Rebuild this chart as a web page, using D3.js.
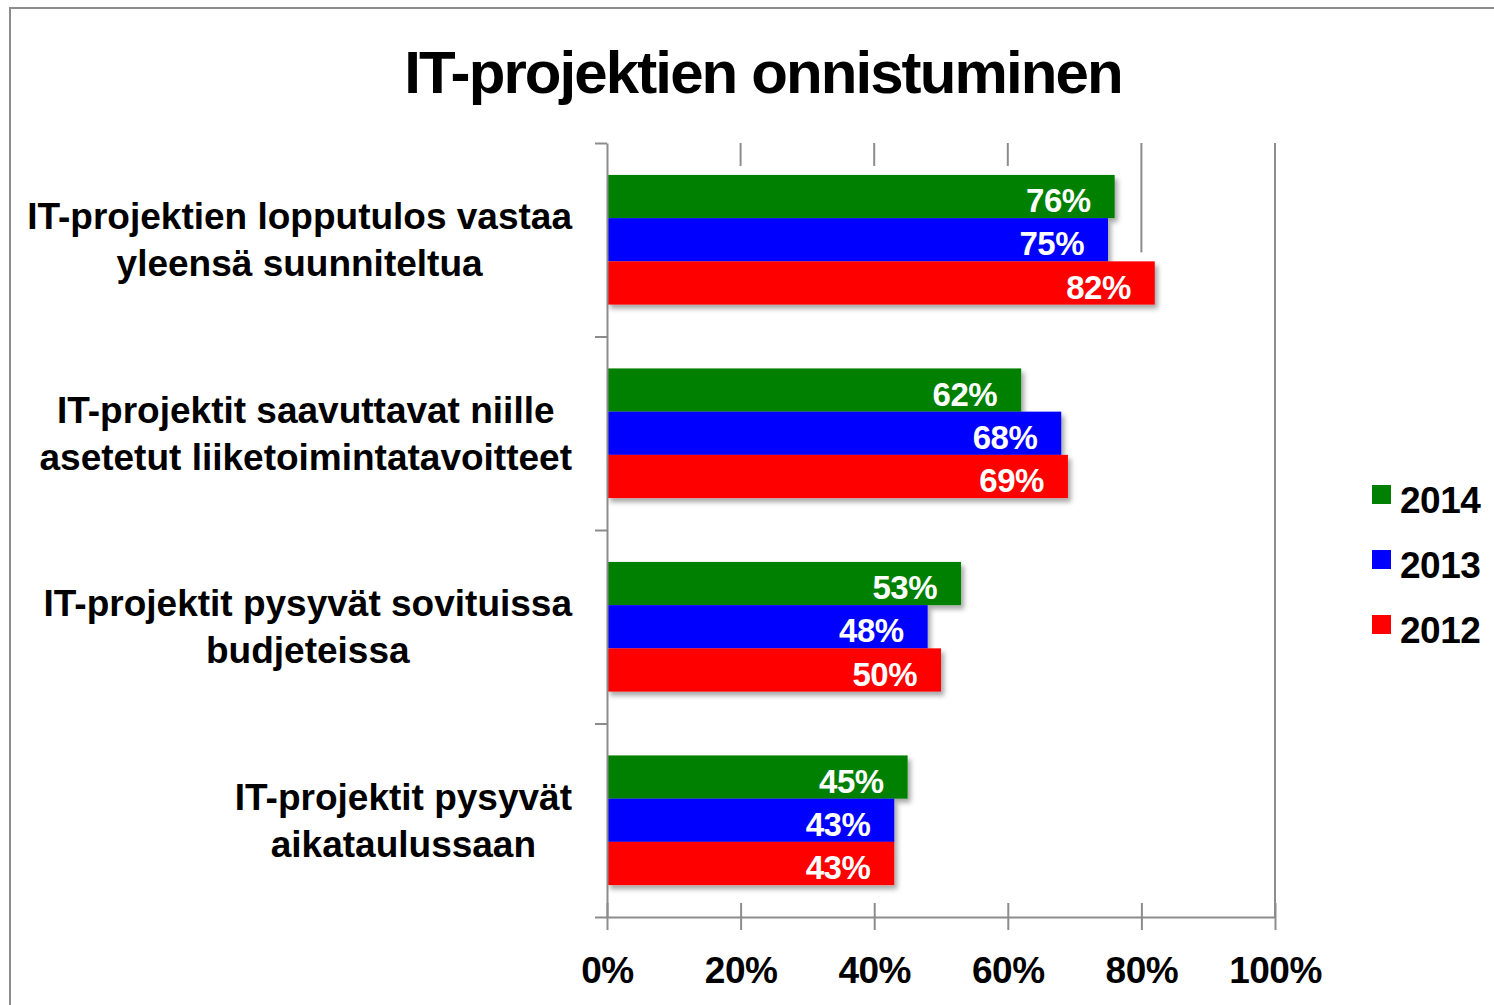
<!DOCTYPE html>
<html>
<head>
<meta charset="utf-8">
<script src="https://cdn.jsdelivr.net/npm/d3@7"></script>
<style>
  body { margin: 0; background: #fff; }
  svg { display: block; font-family: "Liberation Sans", Arial, Helvetica, sans-serif; }
</style>
</head>
<body>
<div id="chart"></div>
<script>
const categories = [
  ["IT-projektien lopputulos vastaa", "yleensä suunniteltua"],
  ["IT-projektit saavuttavat niille", "asetetut liiketoimintatavoitteet"],
  ["IT-projektit pysyvät sovituissa", "budjeteissa"],
  ["IT-projektit pysyvät", "aikataulussaan"],
];
const years = ["2014", "2013", "2012"];
const values2014 = [0.76, 0.62, 0.53, 0.45];
const values2013 = [0.75, 0.68, 0.48, 0.43];
const values2012 = [0.82, 0.69, 0.50, 0.43];
const xTicks = [0, 0.2, 0.4, 0.6, 0.8, 1.0];
const colors = { "2014": "#008000", "2013": "#0000ff", "2012": "#ff0000" };

const W = 1494, H = 1005;
const plot = { left: 607, right: 1275, top: 143, bottom: 917 };
const axisColor = "#8c8c8c";

const seriesValues = { "2014": values2014, "2013": values2013, "2012": values2012 };
const rows = categories.map((c, i) => ({ key: i, lines: c, values: years.map((y) => ({ year: y, value: seriesValues[y][i] })) }));

const svg = d3.select("#chart").append("svg").attr("width", W).attr("height", H);

const defs = svg.append("defs");
defs.append("filter").attr("id", "shadow").attr("x", "-5%").attr("y", "-20%").attr("width", "115%").attr("height", "160%")
  .append("feDropShadow").attr("dx", 3).attr("dy", 4).attr("stdDeviation", 2.5)
  .attr("flood-color", "#000").attr("flood-opacity", 0.35);

// outer frame
svg.append("rect").attr("x", 10).attr("y", 8).attr("width", W).attr("height", H)
  .attr("fill", "none").attr("stroke", axisColor).attr("stroke-width", 2);

// title
svg.append("text").attr("x", 763).attr("y", 93).attr("text-anchor", "middle")
  .attr("font-size", 60).attr("font-weight", "bold").attr("letter-spacing", -1.9)
  .text("IT-projektien onnistuminen");

const x = d3.scaleLinear().domain([0, 1]).range([plot.left, plot.right]);
const y0 = d3.scaleBand().domain(rows.map((r) => r.key)).range([plot.top, plot.bottom])
  .paddingInner(0.33).paddingOuter(0.165);
const y1 = d3.scaleBand().domain(years).range([0, y0.bandwidth()]);
const yEdges = d3.scaleLinear().domain([0, categories.length]).range([plot.top, plot.bottom]);

// gridlines: hidden behind the bars' glow below the first bar they reach
const allBars = rows.flatMap((r) => r.values.map((v) => ({ ...v, top: y0(r.key) + y1(v.year) })));
svg.append("g").selectAll("line").data(xTicks.slice(1)).join("line")
  .attr("x1", (d) => x(d)).attr("x2", (d) => x(d))
  .attr("y1", plot.top)
  .attr("y2", (d) => {
    const hit = allBars.filter((b) => b.value >= d).sort((a, b) => a.top - b.top)[0];
    return hit ? hit.top - 9 : plot.bottom;
  })
  .attr("stroke", axisColor).attr("stroke-width", 2);

// bars
const groups = svg.append("g").selectAll("g").data(rows).join("g")
  .attr("transform", (d) => `translate(0,${y0(d.key)})`);

groups.selectAll("rect").data((d) => d.values).join("rect")
  .attr("x", x(0))
  .attr("y", (d) => y1(d.year))
  .attr("width", (d) => x(d.value) - x(0))
  .attr("height", y1.bandwidth())
  .attr("fill", (d) => colors[d.year])
  .attr("filter", "url(#shadow)");

groups.selectAll("text").data((d) => d.values).join("text")
  .attr("x", (d) => x(d.value) - 24)
  .attr("y", (d) => y1(d.year) + y1.bandwidth() - 6)
  .attr("text-anchor", "end")
  .attr("fill", "#fff").attr("font-weight", "bold").attr("font-size", 33)
  .attr("letter-spacing", -0.5)
  .text((d) => d3.format(".0%")(d.value));

// left axis
const leftAxis = svg.append("g").attr("transform", `translate(${plot.left},0)`)
  .call(d3.axisLeft(yEdges).ticks(categories.length).tickSize(12).tickSizeOuter(0).tickFormat(""));
leftAxis.select(".domain").attr("stroke", axisColor).attr("stroke-width", 2);
leftAxis.selectAll(".tick line").attr("stroke", axisColor).attr("stroke-width", 2);

// bottom axis
const bottomAxis = svg.append("g").attr("transform", `translate(0,${plot.bottom})`)
  .call(d3.axisBottom(x).tickValues(xTicks).tickSize(13).tickSizeOuter(0).tickFormat(d3.format(".0%")));
bottomAxis.select(".domain").attr("stroke", axisColor).attr("stroke-width", 2);
bottomAxis.selectAll(".tick line").attr("stroke", axisColor).attr("stroke-width", 2).attr("y1", -14);
bottomAxis.selectAll(".tick text").attr("y", 66).attr("dy", 0)
  .attr("font-size", 37).attr("font-weight", "bold").attr("fill", "#000")
  .attr("font-family", "'Liberation Sans', Arial, sans-serif").attr("letter-spacing", -0.5);

// category labels: lines centred on each other, block right-aligned at the axis
const labelRight = 572;
const lineH = 47;
const catLabels = svg.append("g").selectAll("text").data(rows).join("text")
  .attr("font-size", 37).attr("font-weight", "bold").attr("letter-spacing", 0)
  .attr("text-anchor", "middle");
catLabels.each(function (d) {
  const t = d3.select(this);
  const cy = y0(d.key) + y0.bandwidth() / 2;
  const firstBase = cy + 13 - ((d.lines.length - 1) * lineH) / 2;
  d.lines.forEach((line, i) => {
    t.append("tspan").attr("y", firstBase + i * lineH).text(line);
  });
  const widths = t.selectAll("tspan").nodes().map((n) => n.getComputedTextLength());
  const cx = labelRight - d3.max(widths) / 2;
  t.selectAll("tspan").attr("x", cx);
});

// legend
const legend = svg.append("g").selectAll("g").data(years).join("g")
  .attr("transform", (d, i) => `translate(1372,${485 + i * 65})`);
legend.append("rect").attr("width", 19).attr("height", 19).attr("fill", (d) => colors[d]);
legend.append("text").attr("x", 28).attr("y", 28)
  .attr("font-size", 37).attr("font-weight", "bold").attr("letter-spacing", -0.5).text((d) => d);
</script>
</body>
</html>
